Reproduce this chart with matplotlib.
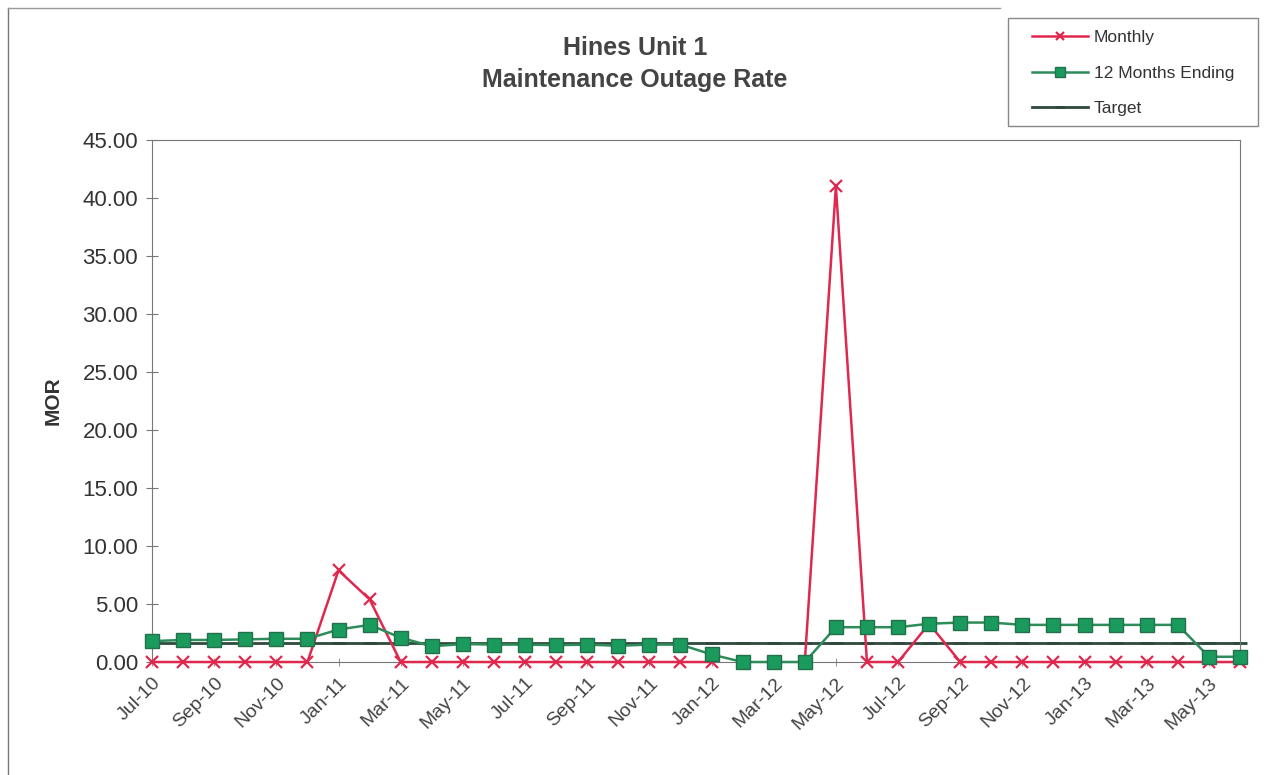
import matplotlib.pyplot as plt
import numpy as np

plt.rcParams['font.family'] = ['Liberation Sans', 'DejaVu Sans']

months = ["Jul-10", "Aug-10", "Sep-10", "Oct-10", "Nov-10", "Dec-10",
          "Jan-11", "Feb-11", "Mar-11", "Apr-11", "May-11", "Jun-11",
          "Jul-11", "Aug-11", "Sep-11", "Oct-11", "Nov-11", "Dec-11",
          "Jan-12", "Feb-12", "Mar-12", "Apr-12", "May-12", "Jun-12",
          "Jul-12", "Aug-12", "Sep-12", "Oct-12", "Nov-12", "Dec-12",
          "Jan-13", "Feb-13", "Mar-13", "Apr-13", "May-13", "Jun-13"]

monthly = [0, 0, 0, 0, 0, 0,
           7.9, 5.4, 0, 0, 0, 0,
           0, 0, 0, 0, 0, 0,
           0, np.nan, np.nan, 0, 41.0, 0,
           0, 3.3, 0, 0, 0, 0,
           0, 0, 0, 0, 0, 0]

twelve_months = [1.8, 1.9, 1.9, 1.95, 2.0, 2.0,
                 2.8, 3.2, 2.1, 1.35, 1.55, 1.5,
                 1.5, 1.45, 1.5, 1.4, 1.5, 1.5,
                 0.65, 0.0, 0.0, 0.0, 3.0, 3.0,
                 3.0, 3.3, 3.4, 3.4, 3.2, 3.2,
                 3.2, 3.2, 3.2, 3.2, 0.45, 0.45]

target = [1.6] * len(months)

x = np.arange(len(months))

fig = plt.figure(figsize=(12.7, 7.75), dpi=100)
ax = fig.add_axes([152 / 1270, 1 - 662 / 775, (1240 - 152) / 1270, (662 - 140) / 775])

ax.plot(x, target, color="#2f4a3c", lw=2, marker="_", ms=10, mew=2, label="Target",
        zorder=2, clip_on=False)
ax.plot(x, monthly, color="#e0284f", lw=1.8, marker="x", ms=9, mew=1.6, label="Monthly",
        zorder=3, clip_on=False)
ax.plot(x, twelve_months, color="#2e8b5a", lw=1.8, marker="s", ms=10,
        mfc="#1a9a5c", mec="#23704a", label="12 Months Ending", zorder=4, clip_on=False)

ax.set_xlim(0, len(months) - 1)
ax.set_ylim(0, 45)
ax.set_yticks(np.arange(0, 50, 5))
ax.set_yticklabels(["%.2f" % v for v in np.arange(0, 50, 5)], fontsize=16, color="#333333")
ax.set_xticks(x[::2])
ax.set_xticklabels(months[::2], rotation=45, ha="right", rotation_mode="anchor",
                   fontsize=14, color="#444444")
ax.tick_params(axis="y", direction="inout", length=8, color="#777777", pad=6)
ax.tick_params(axis="x", direction="inout", length=6, color="#999999", pad=6)
ax.set_ylabel("MOR", fontsize=15, fontweight="bold", color="#333333", labelpad=14)
for s in ax.spines.values():
    s.set_color("#777777")

fig.text(0.5, 1 - 64 / 775, "Hines Unit 1\nMaintenance Outage Rate", ha="center", va="center",
         fontsize=18, fontweight="bold", color="#444444", linespacing=1.45)

# legend box drawn separately so the padding can match
box = plt.Rectangle((1008 / 1270, 1 - 126 / 775), 250 / 1270, 108 / 775,
                    transform=fig.transFigure, fill=True, facecolor="white",
                    edgecolor="#888888", lw=1)
fig.add_artist(box)

handles, labels = ax.get_legend_handles_labels()
order = [1, 2, 0]
leg = fig.legend([handles[i] for i in order], [labels[i] for i in order],
                 loc="center left", bbox_to_anchor=(1032 / 1270, 1 - 73 / 775),
                 fontsize=12.5, frameon=False, labelspacing=1.15, handlelength=3.2,
                 handletextpad=0.35, borderpad=0, borderaxespad=0, markerscale=0.7)
for t in leg.get_texts():
    t.set_color("#333333")

# outer chart border
fig.add_artist(plt.Line2D([8 / 1270, 8 / 1270], [0, 1 - 8 / 775], color="#777777", lw=1))
fig.add_artist(plt.Line2D([8 / 1270, 1000 / 1270], [1 - 8 / 775, 1 - 8 / 775], color="#999999", lw=1))

fig.savefig("out.png", dpi=100)
